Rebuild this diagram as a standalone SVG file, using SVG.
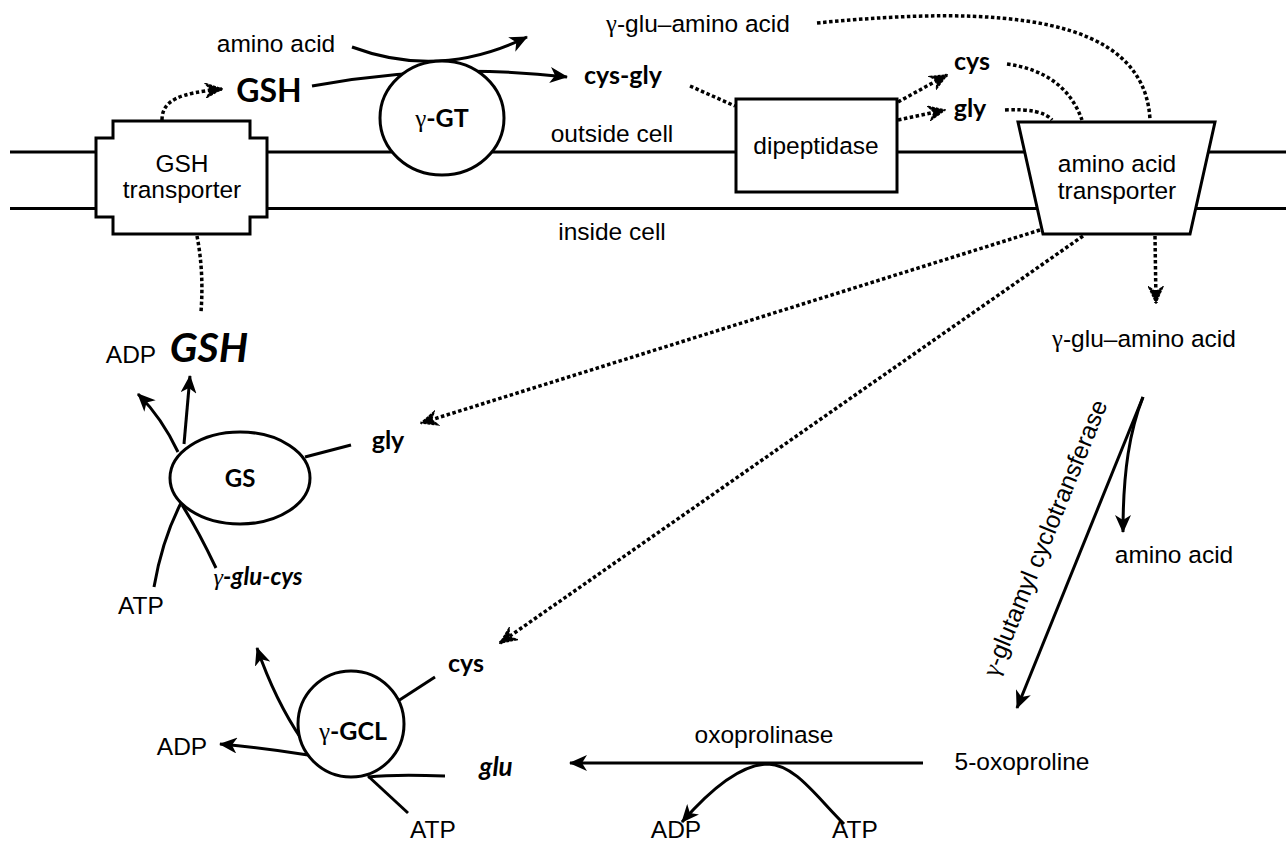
<svg xmlns="http://www.w3.org/2000/svg" width="1286" height="842" viewBox="0 0 1286 842">
<style>
.s{fill:none;stroke:#000;stroke-width:3}
.d{fill:none;stroke:#000;stroke-width:3.5;stroke-dasharray:3.5 2.5}
.sh{fill:#fff;stroke:#000;stroke-width:3}
.m{fill:none;stroke:#000;stroke-width:3}
text{fill:#000}
.t{font-family:"Liberation Sans",Arial,sans-serif;font-size:24.5px}
.b{font-family:Lato,"Open Sans",sans-serif;font-weight:bold}
.i{font-style:italic}
.gm{font-family:"Liberation Serif","DejaVu Serif",serif;font-weight:normal}
</style>
<defs>
<marker id="a" viewBox="0 0 18 16" refX="17" refY="8" markerWidth="18" markerHeight="16" markerUnits="userSpaceOnUse" orient="auto"><path d="M0,0 L18,8 L0,16 L5,8 Z" fill="#000"/></marker>
<marker id="ad" viewBox="0 0 18 16" refX="17" refY="8" markerWidth="18" markerHeight="16" markerUnits="userSpaceOnUse" orient="auto"><path d="M1,1 L17,8 L1,15 L6,8 Z" fill="#000" stroke="#000" stroke-width="1.5" stroke-dasharray="3 1"/></marker>
</defs>
<g id="membrane">
<path class="m" d="M10,152 H1286 M10,208.5 H1286"/>
<text class="t" x="612" y="142" text-anchor="middle">outside cell</text>
<text class="t" x="612" y="240" text-anchor="middle">inside cell</text>
</g>
<g id="connectors">
<path class="s" d="M352,47 Q440,80 527,37" marker-end="url(#a)"/>
<path class="s" d="M312,86 Q440,62 567,77" marker-end="url(#a)"/>
<path class="s" d="M178,452 Q162,418 138,394" marker-end="url(#a)"/>
<path class="s" d="M184,444 L190,376" marker-end="url(#a)"/>
<path class="s" d="M305,457 L351,445"/>
<path class="s" d="M154,587 Q162,540 181,503"/>
<path class="s" d="M216,568 Q198,530 182,505"/>
<path class="s" d="M302,740 Q275,700 257,648" marker-end="url(#a)"/>
<path class="s" d="M308,755 Q265,748 220,744" marker-end="url(#a)"/>
<path class="s" d="M445,776 Q395,774 368,777"/>
<path class="s" d="M408,813 L368,776"/>
<path class="s" d="M435,677 L398,701"/>
<path class="s" d="M923,763 L570,763" marker-end="url(#a)"/>
<path class="s" d="M844,824 C815,795 795,765 768,764 C740,764 710,790 682,822" marker-end="url(#a)"/>
<path class="s" d="M1143,397 L1017,708" marker-end="url(#a)"/>
<path class="s" d="M1143,397 C1130,430 1123,470 1123,532" marker-end="url(#a)"/>
<path class="d" d="M162,120 C162,100 180,93 222,89" marker-end="url(#ad)"/>
<path class="d" d="M197,236 Q204,272 201,312"/>
<path class="d" d="M690,86 L735,106"/>
<path class="d" d="M817,23 C1000,5 1145,15 1150,120"/>
<path class="d" d="M898,102 L947,75" marker-end="url(#ad)"/>
<path class="d" d="M898,120 L945,110" marker-end="url(#ad)"/>
<path class="d" d="M1007,64 Q1065,72 1082,120"/>
<path class="d" d="M1005,110 Q1042,108 1052,120"/>
<path class="d" d="M1155,236 L1156,303" marker-end="url(#ad)"/>
<path class="d" d="M1040,230 L421,423" marker-end="url(#ad)"/>
<path class="d" d="M1083,236 L500,643" marker-end="url(#ad)"/>
</g>
<g id="gsh-transporter">
<path class="sh" d="M113,121 H250 V138 H267 V217 H250 V234 H113 V217 H96 V138 H113 Z"/>
<text class="t" x="182" y="172" text-anchor="middle">GSH</text>
<text class="t" x="182" y="198" text-anchor="middle">transporter</text>
</g>
<g id="ggt">
<ellipse class="sh" cx="442" cy="118" rx="62" ry="57"/>
<text class="b" x="442" y="127" font-size="25" text-anchor="middle"><tspan class="gm">γ</tspan>-GT</text>
</g>
<g id="dipeptidase">
<rect class="sh" x="736" y="99" width="161" height="93"/>
<text class="t" x="816" y="154" text-anchor="middle">dipeptidase</text>
</g>
<g id="aa-transporter">
<path class="sh" d="M1018,122 H1215 L1190,234 H1043 Z"/>
<text class="t" x="1117" y="172" text-anchor="middle">amino acid</text>
<text class="t" x="1117" y="199" text-anchor="middle">transporter</text>
</g>
<g id="gs">
<ellipse class="sh" cx="240" cy="478" rx="70" ry="46"/>
<text class="b" x="240" y="487" font-size="24" text-anchor="middle">GS</text>
</g>
<g id="gcl">
<circle class="sh" cx="351" cy="724" r="53"/>
<text class="b" x="353" y="740" font-size="25" text-anchor="middle"><tspan class="gm">γ</tspan>-GCL</text>
</g>
<g id="labels">
<text class="t" x="276" y="52" text-anchor="middle">amino acid</text>
<text class="b" x="269" y="102" font-size="32" text-anchor="middle">GSH</text>
<text class="b" x="623" y="84" font-size="25" text-anchor="middle">cys-gly</text>
<text class="t" x="698" y="32" text-anchor="middle"><tspan class="gm">γ</tspan>-glu–amino acid</text>
<text class="b" x="972" y="70" font-size="25" text-anchor="middle">cys</text>
<text class="b" x="970" y="117" font-size="25" text-anchor="middle">gly</text>
<text class="t" x="1144" y="347" text-anchor="middle"><tspan class="gm">γ</tspan>-glu–amino acid</text>
<text class="b i" x="209" y="362" font-size="41" text-anchor="middle">GSH</text>
<text class="t" x="131" y="363" text-anchor="middle">ADP</text>
<text class="b" x="388" y="449" font-size="25" text-anchor="middle">gly</text>
<text class="t" x="141" y="614" text-anchor="middle">ATP</text>
<text class="b i" x="258" y="585" font-size="24" text-anchor="middle"><tspan class="gm">γ</tspan>-glu-cys</text>
<text class="b" x="466" y="672" font-size="25" text-anchor="middle">cys</text>
<text class="t" x="182" y="755" text-anchor="middle">ADP</text>
<text class="b i" x="496" y="776" font-size="26" text-anchor="middle">glu</text>
<text class="t" x="433" y="838" text-anchor="middle">ATP</text>
<text class="t" x="764" y="743" text-anchor="middle">oxoprolinase</text>
<text class="t" x="1022" y="770" text-anchor="middle">5-oxoproline</text>
<text class="t" x="676" y="838" text-anchor="middle">ADP</text>
<text class="t" x="855" y="838" text-anchor="middle">ATP</text>
<text class="t" x="1174" y="563" text-anchor="middle">amino acid</text>
<text class="t" transform="translate(1045,538) rotate(-68)" x="0" y="8" text-anchor="middle"><tspan class="gm">γ</tspan>-glutamyl cyclotransferase</text>
</g>
</svg>
